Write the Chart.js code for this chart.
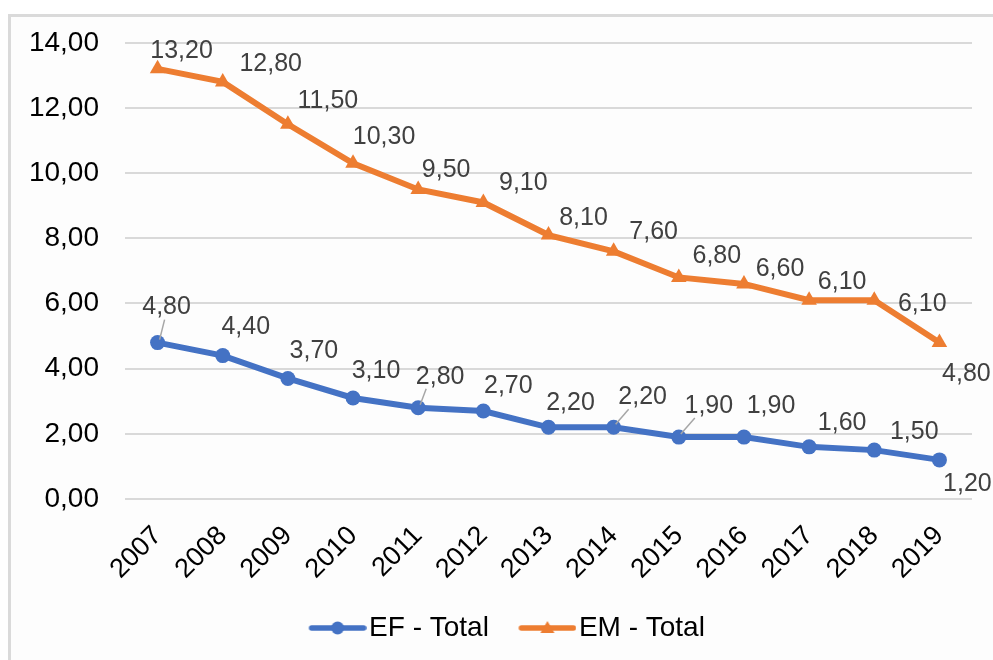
<!DOCTYPE html>
<html>
<head>
<meta charset="utf-8">
<script src="https://cdn.jsdelivr.net/npm/chart.js@4/dist/chart.umd.min.js"></script>
<style>
html,body{margin:0;padding:0;background:#fff}
#wrap{position:relative;width:993px;height:660px}
#frame{position:absolute;left:8px;top:14px;right:0;bottom:0;border-left:3px solid #dadada;border-top:3px solid #dadada;background:#fdfdfd}
#chart{position:absolute;left:0;top:0}
</style>
</head>
<body>
<div id="wrap">
<div id="frame"></div>
<canvas id="chart" width="993" height="660"></canvas>
</div>
<script>

/* =====================================================
DATA
===================================================== */

const years=["2007","2008","2009","2010","2011","2012","2013","2014","2015","2016","2017","2018","2019"]

const efTotal=[4.8,4.4,3.7,3.1,2.8,2.7,2.2,2.2,1.9,1.9,1.6,1.5,1.2]
const emTotal=[13.2,12.8,11.5,10.3,9.5,9.1,8.1,7.6,6.8,6.6,6.1,6.1,4.8]

const yMin=0
const yMax=14
const yStep=2


/* =====================================================
LABEL PLACEMENT (offsets from the point, px)
===================================================== */

const efLabelOffsets=[[9,-35],[23,-29],[26,-27],[23,-27],[22,-31],[25,-25],[22,-24],[29,-30],[30,-31],[27,-31],[33,-24],[40,-18],[28,24]]
const emLabelOffsets=[[24,-18],[48,-18],[40,-23],[31,-26],[28,-19],[40,-19],[35,-17],[40,-19],[38,-21],[36,-15],[33,-18],[48,4],[27,32]]
const efLeaders=[0,4,7,8]

const BLUE="#4472C4"
const ORANGE="#ED7D31"
const FONT="'Liberation Sans', Arial, sans-serif"

const fmt=v=>v.toFixed(2).replace(".",",")


/* =====================================================
LEGEND ICONS (line + marker)
===================================================== */

function legendIcon(color,shape){
const c=document.createElement("canvas")
c.width=72
c.height=16
const g=c.getContext("2d")
g.strokeStyle=color
g.lineWidth=5.5
g.lineCap="round"
g.beginPath()
g.moveTo(17,8)
g.lineTo(69,8)
g.stroke()
g.fillStyle=color
g.beginPath()
if(shape==="circle"){
g.arc(43,8,6.5,0,Math.PI*2)
}else{
g.moveTo(43,1)
g.lineTo(50,13)
g.lineTo(36,13)
g.closePath()
}
g.fill()
return c
}


/* =====================================================
PLUGINS
===================================================== */

const valueLabels={
id:"valueLabels",
afterDatasetsDraw(chart){
const ctx=chart.ctx
ctx.save()
ctx.font="25px "+FONT
ctx.fillStyle="#404040"
ctx.textAlign="center"
ctx.textBaseline="middle"

chart.data.datasets.forEach((ds,di)=>{
const meta=chart.getDatasetMeta(di)
const offs=di===0?efLabelOffsets:emLabelOffsets
meta.data.forEach((pt,i)=>{
const [dx,dy]=offs[i]
const lx=pt.x+dx
const ly=pt.y+dy
if(di===0 && efLeaders.includes(i)){
ctx.strokeStyle="#a6a6a6"
ctx.lineWidth=1.5
ctx.beginPath()
ctx.moveTo(pt.x+2,pt.y-3)
ctx.lineTo(lx-(dx>15?14:2),ly+12)
ctx.stroke()
}
ctx.fillText(fmt(ds.data[i]),lx,ly)
})
})

ctx.restore()
}
}

// legend sits a little right of centre in the original
const legendShift={
id:"legendShift",
afterLayout(chart){
if(chart.legend) chart.legend.left+=39
}
}


/* =====================================================
CHART
===================================================== */

new Chart(document.getElementById("chart"),{
type:"line",
data:{
labels:years,
datasets:[{
label:"EF - Total",
data:efTotal,
borderColor:BLUE,
backgroundColor:BLUE,
borderWidth:6,
pointStyle:"circle",
pointRadius:7.5,
pointBorderWidth:0,
tension:0
},{
label:"EM - Total",
data:emTotal,
borderColor:ORANGE,
backgroundColor:ORANGE,
borderWidth:6,
pointStyle:"triangle",
pointRadius:9,
pointBorderWidth:0,
tension:0
}]
},
options:{
responsive:false,
animation:false,
devicePixelRatio:1,
layout:{padding:{top:32,right:21,left:0,bottom:8}},
plugins:{
legend:{
position:"bottom",
labels:{
usePointStyle:true,
pointStyleWidth:49,
padding:27,
color:"#000",
font:{family:FONT,size:28},
generateLabels(chart){
return [
{text:"EF - Total",pointStyle:legendIcon(BLUE,"circle"),fontColor:"#000",datasetIndex:0,lineWidth:0,strokeStyle:"transparent",fillStyle:BLUE},
{text:"EM - Total",pointStyle:legendIcon(ORANGE,"triangle"),fontColor:"#000",datasetIndex:1,lineWidth:0,strokeStyle:"transparent",fillStyle:ORANGE}
]
}
}
},
tooltip:{enabled:false}
},
scales:{
x:{
offset:true,
grid:{display:false,drawTicks:false},
border:{display:false},
afterFit(scale){scale.height=88},
ticks:{
minRotation:45,
maxRotation:45,
padding:21,
color:"#000",
font:{family:FONT,size:27}
}
},
y:{
min:yMin,
max:yMax,
grid:{color:"#d9d9d9",lineWidth:2,drawTicks:false},
border:{display:false},
afterFit(scale){scale.width=125},
ticks:{
stepSize:yStep,
padding:26,
color:"#000",
font:{family:FONT,size:28},
callback:v=>fmt(v)
}
}
}
},
plugins:[valueLabels,legendShift]
})

</script>
</body>
</html>
